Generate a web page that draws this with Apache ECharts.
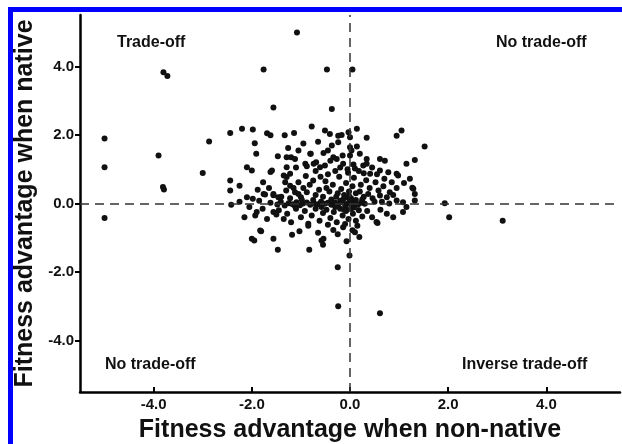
<!DOCTYPE html>
<html><head><meta charset="utf-8">
<script src="https://cdn.jsdelivr.net/npm/echarts@6/dist/echarts.min.js"></script>
<style>html,body{margin:0;padding:0;background:#fff}#c{width:622px;height:444px}</style>
</head><body><div id="c"></div>
<script>
const xTicks = [-4, -2, 0, 2, 4];
const yTicks = [-4, -2, 0, 2, 4];
const xTitle = 'Fitness advantage when non-native';
const yTitle = 'Fitness advantage when native';
const quadrantLabels = ['Trade-off', 'No trade-off', 'No trade-off', 'Inverse trade-off'];
const points = [
[-5.0,1.90],[-5.0,1.06],[-5.0,-0.42],
[-3.80,3.83],[-3.72,3.72],[-3.90,1.40],[-3.81,0.48],[-3.79,0.41],
[-3.0,0.89],[-2.87,1.81],
[-2.44,2.06],[-2.20,2.18],[-1.98,2.16],[-1.94,1.76],[-1.91,1.45],
[-1.76,3.91],[-1.56,2.80],[-1.08,4.99],[-1.69,2.05],[-1.62,1.99],[-1.33,1.99],[-1.14,2.06],[-0.78,2.25],
[-2.44,0.67],[-2.25,0.52],[-2.44,0.38],[-2.42,-0.04],
[-2.10,1.06],[-2.0,0.96],[-2.10,0.18],[-1.98,0.14],[-1.77,0.62],[-1.76,0.28],[-1.90,-0.25],[-1.93,-0.35],[-1.69,-0.45],
[-1.59,0.96],[-1.62,0.92],[-1.47,1.38],[-1.26,1.62],[-1.29,1.35],[-1.20,1.35],[-1.12,1.30],[-0.80,1.45],[-0.91,1.16],[-0.88,1.09],[-0.69,1.20],
[-1.29,1.06],[-1.35,0.82],[-1.29,0.77],[-1.22,0.87],[-1.32,0.62],[-1.22,0.52],[-1.56,0.28],[-1.46,0.18],[-1.12,0.33],[-1.05,0.28],[-0.88,0.33],[-0.75,0.67],
[-1.73,0.26],[-1.56,0.24],[-1.56,-0.25],[-1.50,-0.32],[-1.81,-0.81],[-2.0,-1.03],[-1.95,-1.08],[-1.56,-1.03],[-1.47,-1.35],[-1.83,-0.79],
[-1.18,-0.91],[-1.03,-0.81],[-0.85,-0.59],[-0.83,-1.35],[-0.54,-1.03],[-0.55,-1.20],[-0.34,-0.77],[-0.07,-1.10],[-0.01,-1.52],[0.10,-0.84],[0.19,-0.98],[-0.14,-0.69],
[-0.25,-1.86],[-0.24,-3.0],[0.61,-3.20],[0.56,-0.57],[-0.58,-1.08],
[-0.47,3.91],[0.05,3.91],[-0.37,2.76],
[-0.51,2.13],[-0.41,2.03],[-0.24,1.98],[-0.17,2.0],[-0.03,2.08],[0.0,1.93],[0.14,2.18],[0.34,1.92],[0.95,1.98],[1.05,2.13],[1.52,1.66],
[-0.37,1.69],[-0.24,1.79],[0.0,1.64],[0.14,1.66],[-0.81,1.45],[-0.54,1.47],[0.0,1.40],[0.03,1.55],[-0.34,1.35],[-0.27,1.30],
[0.34,1.30],[0.61,1.30],[0.71,1.25],[1.15,1.16],[1.32,1.27],
[-0.74,1.16],[-0.61,1.06],[-0.51,1.11],[-0.14,1.16],[0.07,1.14],[0.27,1.11],[0.34,1.16],
[0.41,0.87],[0.61,0.96],[0.78,0.91],[0.95,0.87],[1.22,0.72],[0.98,0.82],[1.29,0.43],[1.32,0.28],[1.27,0.46],[0.81,0.33],[0.61,0.23],[0.37,0.28],
[0.95,0.09],[1.08,0.04],[1.32,0.09],[1.93,0.01],[2.02,-0.40],[3.11,-0.50],[0.54,-0.54],[0.88,-0.40],[1.08,-0.25],
[-1.62,0.02],[-1.48,-0.03],[-1.41,0.05],[-1.33,-0.06],[-1.25,0.01],[-1.17,-0.02],[-1.09,0.04],[-1.02,-0.05],[-0.96,0.00],[-0.88,0.03],[-0.81,-0.04],[-0.74,0.01],[-0.66,-0.02],[-0.59,0.05],[-0.52,-0.01],[-0.45,0.02],[-0.38,-0.04],[-0.31,0.03],[-0.24,-0.02],[-0.17,0.04],[-0.10,-0.03],[-0.04,0.01],[0.03,-0.02],[0.09,0.03],[0.16,-0.04],[0.23,0.02],[0.30,-0.01],
[-1.40,0.20],[-1.22,0.15],[-1.00,0.18],[-0.95,0.45],[-0.82,0.55],[-0.70,0.25],[-0.63,0.40],[-0.55,0.20],[-0.50,0.65],[-0.42,0.35],[-0.35,0.55],[-0.28,0.20],[-0.22,0.78],[-0.18,0.42],[-0.12,0.25],[-0.08,0.60],[-0.04,0.90],[-0.02,0.35],[0.02,0.15],[0.05,0.50],[0.08,0.75],[0.12,0.30],[0.18,0.95],[0.22,0.55],[0.28,0.20],[0.33,0.68],[0.40,0.45],[0.46,0.15],[0.52,0.62],[0.58,0.38],[0.68,0.50],[0.75,0.18],[0.85,0.62],[-0.30,0.95],[-0.45,0.85],[-0.60,0.78],[-0.90,0.80],[-1.05,0.62],[-1.15,0.45],[-1.30,0.38],[-0.05,1.00],[0.10,1.02],[-0.20,1.05],
[-1.45,-0.20],[-1.28,-0.30],[-1.10,-0.15],[-1.00,-0.40],[-0.92,-0.22],[-0.78,-0.35],[-0.70,-0.15],[-0.62,-0.50],[-0.55,-0.28],[-0.48,-0.18],[-0.40,-0.42],[-0.33,-0.25],[-0.27,-0.55],[-0.20,-0.15],[-0.15,-0.35],[-0.08,-0.22],[-0.03,-0.45],[0.02,-0.15],[0.06,-0.30],[0.12,-0.50],[0.18,-0.20],[0.25,-0.38],[0.35,-0.22],[0.45,-0.40],[0.62,-0.18],[0.75,-0.30],[-1.20,-0.55],[-0.85,-0.65],[-0.45,-0.62],[-0.10,-0.60],[0.15,-0.65],[-1.35,-0.45],[-0.65,-0.85],[-0.25,-0.90],[0.05,-0.78],
[-0.14,0.12],[-0.06,0.18],[0.00,0.08],[0.04,-0.08],[-0.09,-0.10],[-0.20,0.08],[0.12,0.10],[0.08,-0.12],[-0.02,0.22],[-0.30,-0.10],[-0.38,0.12],[-0.58,-0.10],[-0.75,0.10],[-0.98,0.10],[-1.12,-0.08],[-0.25,0.30],[0.20,0.35],[-0.12,-0.18],[0.25,0.12],[-0.48,0.45],
[-2.25,0.05],[-2.05,-0.10],[-1.85,0.08],[-1.78,-0.15],[-2.15,-0.40],[-1.65,0.45],[-1.88,0.40],
[-1.05,1.55],[-0.95,1.75],[-0.65,1.80],[-0.45,1.55],[-0.70,0.95],[-1.10,1.05],[-0.40,1.25],[0.20,1.45],[0.45,1.05],[0.55,0.85],[-0.15,1.40],[0.28,0.88],
[0.95,0.45],[1.10,0.60],[0.70,0.72],[0.88,0.25],[1.15,-0.10],[0.50,0.05],[0.65,0.05],[0.80,0.00]
];

const FONT = 'Liberation Sans, Arial, sans-serif';
const chart = echarts.init(document.getElementById('c'), null, {renderer: 'canvas'});
const labelStyle = {color: '#111', fontWeight: 'bold', fontSize: 15, fontFamily: FONT};
const quadText = (txt, x, y) => ({
  type: 'text', left: x, top: y,
  style: {text: txt, fill: '#111', font: 'bold 16px ' + FONT}
});
chart.setOption({
  backgroundColor: '#fff',
  animation: false,
  grid: {left: 80, right: 2, top: 15, bottom: 52, containLabel: false, outerBoundsMode: 'none'},
  xAxis: {
    type: 'value', min: -5.5, max: 5.5,
    splitLine: {show: false},
    axisLine: {show: true, onZero: false, lineStyle: {color: '#000', width: 2.5}},
    axisTick: {show: true, inside: true, length: 5, customValues: xTicks, lineStyle: {color: '#000', width: 2}},
    axisLabel: Object.assign({customValues: xTicks, margin: 5, formatter: v => v.toFixed(1)}, labelStyle),
    name: xTitle, nameLocation: 'middle', nameGap: 26,
    nameTextStyle: {color: '#111', fontWeight: 'bold', fontSize: 25, fontFamily: FONT}
  },
  yAxis: {
    type: 'value', min: -5.5, max: 5.5,
    splitLine: {show: false},
    axisLine: {show: true, onZero: false, lineStyle: {color: '#000', width: 2.5}},
    axisTick: {show: true, inside: false, length: 5, customValues: yTicks, lineStyle: {color: '#000', width: 2}},
    axisLabel: Object.assign({customValues: yTicks, margin: 6, formatter: v => v.toFixed(1)}, labelStyle),
    name: yTitle, nameLocation: 'middle', nameGap: 40,
    nameTextStyle: {color: '#111', fontWeight: 'bold', fontSize: 25, fontFamily: FONT}
  },
  series: [{
    type: 'scatter',
    data: points,
    symbol: 'circle', symbolSize: 6,
    itemStyle: {color: '#111', opacity: 1},
    markLine: {
      silent: true, symbol: 'none', label: {show: false},
      lineStyle: {color: '#333', type: [9, 6], width: 1.5},
      data: [{xAxis: 0}, {yAxis: 0}]
    },
    z: 3
  }],
  graphic: [
    {type: 'rect', shape: {x: 8, y: 7, width: 614, height: 5}, style: {fill: '#0000ff'}},
    {type: 'rect', shape: {x: 8, y: 7, width: 5, height: 437}, style: {fill: '#0000ff'}},
    quadText(quadrantLabels[0], 117, 35),
    quadText(quadrantLabels[1], 496, 35),
    quadText(quadrantLabels[2], 105, 357),
    quadText(quadrantLabels[3], 462, 357)
  ]
});
</script></body></html>
